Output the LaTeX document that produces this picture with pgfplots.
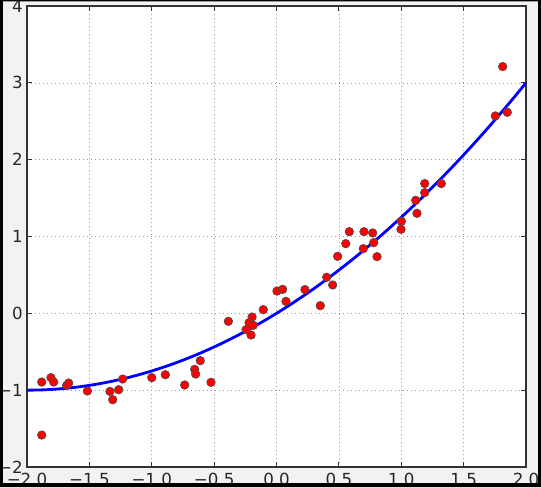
\documentclass[border=0pt]{standalone}
\usepackage{fontspec}
\setmainfont{DejaVu Sans}
\usepackage{pgfplots}
\usepackage{pgfplotstable}
\pgfplotsset{compat=1.18}
\definecolor{mplblue}{RGB}{0,0,255}
\definecolor{mplred}{RGB}{255,0,0}
\definecolor{chk}{RGB}{242,242,242}

% scattered samples
\pgfplotstableread{
x y
-1.882 -0.894
-1.808 -0.837
-1.786 -0.894
-1.682 -0.937
-1.666 -0.907
-1.516 -1.011
-1.335 -1.016
-1.313 -1.124
-1.265 -0.994
-1.233 -0.855
-1.000 -0.837
-0.891 -0.799
-0.736 -0.933
-0.656 -0.729
-0.648 -0.790
-0.611 -0.616
-0.525 -0.898
-1.882 -1.584
-0.386 -0.104
-0.196 -0.048
-0.220 -0.121
-0.186 -0.156
-0.244 -0.212
-0.204 -0.282
-0.106 0.048
0.004 0.290
0.049 0.312
0.076 0.156
0.228 0.309
0.351 0.100
0.402 0.469
0.450 0.369
0.490 0.742
0.555 0.907
0.584 1.063
0.701 1.063
0.696 0.842
0.771 1.046
0.779 0.920
0.806 0.738
1.001 1.198
0.998 1.094
1.126 1.302
1.116 1.471
1.188 1.571
1.188 1.689
1.321 1.689
1.813 3.212
1.754 2.569
1.850 2.617
}\samples

% fitted curve
\pgfplotstableread{
x y
-2.0 -1.0
-1.9 -0.9975
-1.8 -0.99
-1.7 -0.9775
-1.6 -0.96
-1.5 -0.9375
-1.4 -0.91
-1.3 -0.8775
-1.2 -0.84
-1.1 -0.7975
-1.0 -0.75
-0.9 -0.6975
-0.8 -0.64
-0.7 -0.5775
-0.6 -0.51
-0.5 -0.4375
-0.4 -0.36
-0.3 -0.2775
-0.2 -0.19
-0.1 -0.0975
0.0 0.0
0.1 0.1025
0.2 0.21
0.3 0.3225
0.4 0.44
0.5 0.5625
0.6 0.69
0.7 0.8225
0.8 0.96
0.9 1.1025
1.0 1.25
1.1 1.4025
1.2 1.56
1.3 1.7225
1.4 1.89
1.5 2.0625
1.6 2.24
1.7 2.4225
1.8 2.61
1.9 2.8025
2.0 3.0
}\fit

\begin{document}
\begin{tikzpicture}
\fill[chk] (-20.25pt,-15pt) rectangle (385.5pt,350.25pt);
\begin{axis}[
    at={(0pt,0pt)}, anchor=south west,
    scale only axis,
    width=374.25pt, height=345.75pt,
    xmin=-2, xmax=2, ymin=-2, ymax=4,
    xtick={-2,-1.5,-1,-0.5,0,0.5,1,1.5,2},
    xticklabels={−2.0,−1.5,−1.0,−0.5,0.0,0.5,1.0,1.5,2.0},
    ytick={-2,-1,0,1,2,3,4},
    yticklabels={−2,−1,0,1,2,3,4},
    tick pos=both,
    tick align=inside,
    major tick length=4pt,
    tick style={black!80, line width=0.6pt},
    axis line style={black!80, line width=1pt},
    axis background/.style={fill=white},
    grid=major,
    major grid style={gray!80, line width=0.5pt, dash pattern=on 0.8pt off 2.2pt},
    ticklabel style={font=\fontsize{12.5}{14}\selectfont, text=black!85},
    xticklabel style={anchor=north, inner sep=0pt, yshift=-4.5pt},
    yticklabel style={anchor=east, inner sep=0pt, xshift=-3pt},
]
\addplot[only marks, mark=*, mark size=3.2pt,
    mark options={fill=mplred, draw=black!70, line width=0.5pt}] table {\samples};
\addplot[mplblue, line width=2.1pt, smooth] table {\fit};
\end{axis}
\fill[black, even odd rule] (-20.25pt,-15pt) rectangle (385.5pt,350.25pt)
    (-18pt,-12pt) rectangle (383.25pt,349.25pt);
\pgfresetboundingbox
\useasboundingbox (-20.25pt,-15pt) rectangle (385.5pt,350.25pt);
\end{tikzpicture}
\end{document}
